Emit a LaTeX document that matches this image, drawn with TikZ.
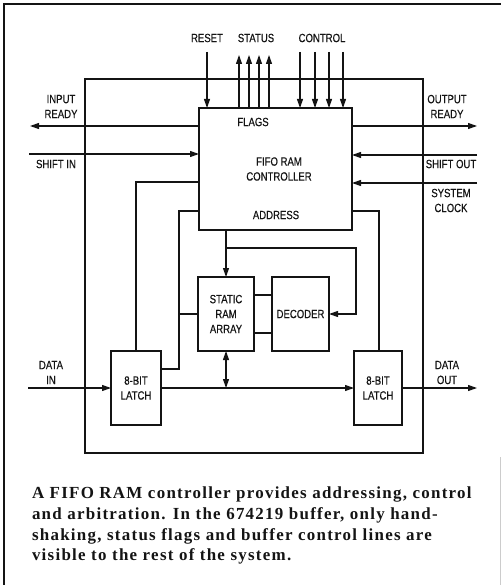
\documentclass[tikz,border=0pt]{standalone}
\usepackage{fontspec}
\usetikzlibrary{arrows.meta,calc}
\setmainfont{Liberation Serif}
\newfontfamily\panelfont[FakeStretch=0.8, FakeBold=0.35]{Liberation Sans}
\newfontfamily\notefont[LetterSpace=7.5]{Liberation Serif}
\definecolor{FifoInk}{gray}{0.08}
\definecolor{FifoFaint}{gray}{0.80}
\tikzset{
    fifo/diagram/.style={
        x=1bp, y=-1bp,
        font=\panelfont\fontsize{12}{15}\selectfont,
        draw=FifoInk,
        text=FifoInk,
        line width=1bp,
        every node/.style={inner sep=0pt, outer sep=0pt}
    },
    fifo/frame/.style={draw=FifoInk, line width=1.3bp},
    fifo/faint/.style={draw=FifoFaint, line width=0.8bp},
    fifo/chip/.style={draw=FifoInk, line width=1.1bp, rectangle},
    fifo/block/.style={draw=FifoInk, fill=white, line width=1.2bp, rectangle, align=center},
    fifo/edge/.style={draw=FifoInk, line width=2.4bp},
    fifo/wire/.style={draw=FifoInk, line width=1.1bp},
    fifo/signal/.style={
        draw=FifoInk, line width=1.1bp,
        -{Triangle[length=9bp, width=6bp]}
    },
    fifo/both/.style={
        draw=FifoInk, line width=1.1bp,
        {Triangle[length=9bp, width=6bp]}-{Triangle[length=9bp, width=6bp]}
    },
    fifo/label/.style={align=center},
    fifo/note/.style={
        align=left,
        font=\notefont\bfseries\fontsize{17}{20.7}\selectfont
    }
}
\begin{document}
\begin{tikzpicture}[fifo/diagram]
    \useasboundingbox (0,0) rectangle (501,585);
    \draw[fifo/frame] (4,585) -- (4,4) -- (501,4);
    \draw[fifo/faint] (500,457) -- (500,585);
    \node[fifo/chip, minimum width=338bp, minimum height=374bp] (chip) at (254,266) {};
    % blocks
    \node[fifo/block, minimum width=153bp, minimum height=122bp] (ctl) at (275.5,169) {};
    \node[fifo/block, minimum width=56bp, minimum height=74bp] (ram) at (226,314) {STATIC\\RAM\\ARRAY};
    \node[fifo/block, minimum width=57bp, minimum height=74bp] (dec) at (300.5,314) {DECODER};
    \node[fifo/block, minimum width=50bp, minimum height=74bp] (lin) at (136,388) {8-BIT\\LATCH};
    \node[fifo/block, minimum width=48bp, minimum height=74bp] (lout) at (378,388) {8-BIT\\LATCH};
    \foreach \b in {ctl,ram,dec,lin,lout}
        \draw[fifo/edge] (\b.north west) -- (\b.south west) -- (\b.south east);
    \node (flags) at (253,122) {FLAGS};
    \node[fifo/label] (fifo) at (279,169) {FIFO RAM\\CONTROLLER};
    \node (address) at (276,215) {ADDRESS};
    % top signals
    \node (reset) at (207,38) {RESET};
    \node (status) at (256,38) {STATUS};
    \node (control) at (322,38) {CONTROL};
    \coordinate (resetin) at (207,52);
    \draw[fifo/signal] (resetin) -- (resetin |- ctl.north);
    \foreach \x [count=\i] in {239,249,259,269} {
        \coordinate (status\i) at (\x,55);
        \draw[fifo/signal] (status\i |- ctl.north) -- (status\i);
    }
    \foreach \x [count=\i] in {300,315,329,343} {
        \coordinate (control\i) at (\x,52);
        \draw[fifo/signal] (control\i) -- (control\i |- ctl.north);
    }
    % handshake lines
    \node[fifo/label] (inready) at (61,106.5) {INPUT\\READY};
    \node (shiftin) at (56,164) {SHIFT IN};
    \node[fifo/label] (outready) at (447,106.5) {OUTPUT\\READY};
    \node (shiftout) at (451,164) {SHIFT OUT};
    \node[fifo/label] (clock) at (451,200.5) {SYSTEM\\CLOCK};
    \coordinate (irend) at (30,126);
    \coordinate (siend) at (29,154);
    \coordinate (orend) at (477,126);
    \coordinate (soend) at (477,155);
    \coordinate (scend) at (477,183);
    \draw[fifo/signal] (ctl.west |- irend) -- (irend);
    \draw[fifo/signal] (siend) -- (siend -| ctl.west);
    \draw[fifo/signal] (ctl.east |- orend) -- (orend);
    \draw[fifo/signal] (soend) -- (soend -| ctl.east);
    \draw[fifo/signal] (scend) -- (scend -| ctl.east);
    % internal wiring
    \coordinate (lk) at (136,182);
    \coordinate (la) at (179,211);
    \coordinate (lb) at (179,369);
    \coordinate (ra) at (379,211);
    \coordinate (dk) at (356,248);
    \draw[fifo/wire] (lk -| ctl.west) -| (lin.north);
    \draw[fifo/wire] (la -| ctl.west) -- (la) -- (lb) -- (lb -| lin.east);
    \draw[fifo/wire] (la |- ram.west) -- (ram.west);
    \draw[fifo/wire] (ra -| ctl.east) -- (ra) -- (ra |- lout.north);
    \draw[fifo/signal] (ram.north |- ctl.south) -- (ram.north);
    \draw[fifo/signal] (ram.north |- dk) -- (dk) |- (dec.east);
    \draw[fifo/wire] ([yshift=19bp]ram.east) -- ([yshift=19bp]ram.east -| dec.west);
    \draw[fifo/wire] ([yshift=-19bp]ram.east) -- ([yshift=-19bp]ram.east -| dec.west);
    % data path
    \node[fifo/label] (datain) at (51,372.5) {DATA\\IN};
    \node[fifo/label] (dataout) at (447,372.5) {DATA\\OUT};
    \coordinate (dinend) at (28,388);
    \coordinate (doutend) at (477,388);
    \draw[fifo/signal] (dinend) -- (lin.west);
    \draw[fifo/signal] (lin.east) -- (lout.west);
    \draw[fifo/signal] (lout.east) -- (doutend);
    \draw[fifo/both] (ram.south) -- (ram.south |- lin.east);
    % caption
    \node[fifo/note, anchor=north west] (note) at (32,487)
        {A FIFO RAM controller provides addressing, control\\
         and arbitration. In the 674219 buffer, only hand-\\
         shaking, status flags and buffer control lines are\\
         visible to the rest of the system.};
\end{tikzpicture}
\end{document}
